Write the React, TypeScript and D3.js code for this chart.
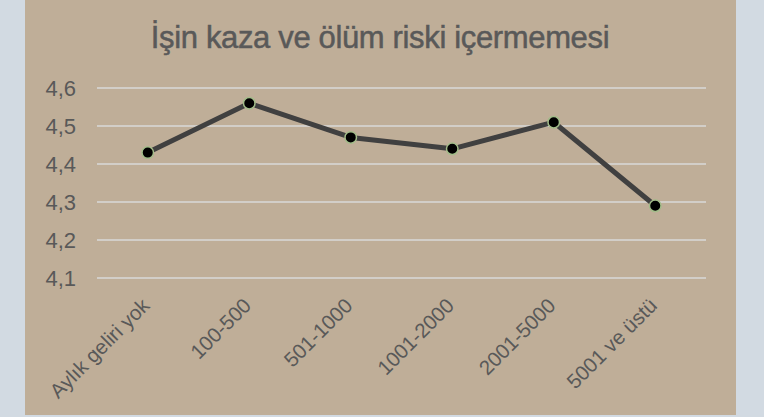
import React from "react";
import * as d3 from "d3";

const categories = ["Aylık geliri yok", "100-500", "501-1000", "1001-2000", "2001-5000", "5001 ve üstü"];
const values = [4.43, 4.56, 4.47, 4.44, 4.51, 4.29];
const yTicks = [4.1, 4.2, 4.3, 4.4, 4.5, 4.6];
const title = "İşin kaza ve ölüm riski içermemesi";

const W = 764;
const H = 417;
const font = "'Liberation Sans', Arial, sans-serif";
const textColor = "#595959";

export default function App() {
  const x = d3.scaleBand<string>().domain(categories).range([97, 706]);
  const y = d3.scaleLinear().domain([4.1, 4.6]).range([278, 88]);
  const cx = (c: string) => (x(c) as number) + x.bandwidth() / 2;
  const line = d3
    .line<number>()
    .x((_, i) => cx(categories[i]))
    .y((d) => y(d));
  const fmt = (v: number) => v.toFixed(1).replace(".", ",");

  return (
    <svg
      width={W}
      height={H}
      style={{ position: "absolute", left: 0, top: 0, display: "block" }}
    >
      <rect x={0} y={0} width={W} height={H} fill="#d2dae2" />
      <rect x={25} y={0} width={711} height={415} fill="#bfae98" />
      <text
        x={380}
        y={48}
        textAnchor="middle"
        fontFamily={font}
        fontSize={31}
        letterSpacing={-0.35}
        fill={textColor}
        stroke={textColor}
        strokeWidth={0.5}
      >
        {title}
      </text>
      {yTicks.map((t) => (
        <g key={t}>
          <line x1={97} x2={706} y1={y(t)} y2={y(t)} stroke="#d9d9d9" strokeWidth={1.6} />
          <text
            x={76}
            y={y(t)}
            textAnchor="end"
            dominantBaseline="central"
            fontFamily={font}
            fontSize={22}
            fill={textColor}
          >
            {fmt(t)}
          </text>
        </g>
      ))}
      {categories.map((c) => (
        <text
          key={c}
          transform={`translate(${cx(c) + 3},${307}) rotate(-45)`}
          textAnchor="end"
          fontFamily={font}
          fontSize={20.5}
          fill={textColor}
        >
          {c}
        </text>
      ))}
      <path
        d={line(values) || ""}
        fill="none"
        stroke="#404040"
        strokeWidth={5}
        strokeLinejoin="round"
      />
      {values.map((v, i) => (
        <circle
          key={i}
          cx={cx(categories[i])}
          cy={y(v)}
          r={5.75}
          fill="#000"
          stroke="#a3bd8a"
          strokeWidth={1.5}
        />
      ))}
    </svg>
  );
}
